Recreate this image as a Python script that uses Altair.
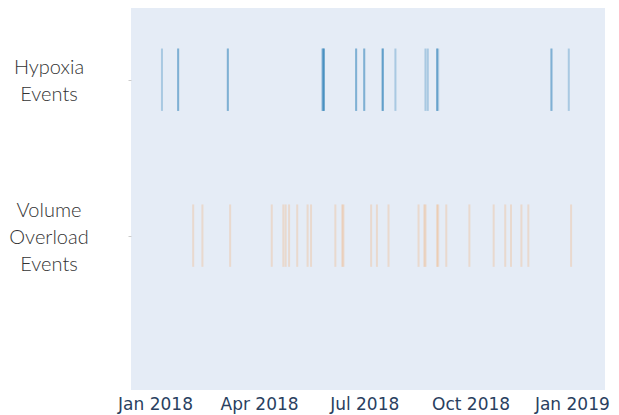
import altair as alt
import pandas as pd

series_names = ["Hypoxia Events", "Volume Overload Events"]
series_labels = ["Hypoxia\nEvents", "Volume\nOverload\nEvents"]
series_levels = [2, 1]
series_colors = ["#1f77b4", "#ff7f0e"]

hypoxia_dates = [
    "2018-01-07",
    "2018-01-21", "2018-01-21",
    "2018-03-05", "2018-03-05",
    "2018-05-26", "2018-05-26", "2018-05-27", "2018-05-27", "2018-05-27",
    "2018-06-24", "2018-06-24",
    "2018-07-01", "2018-07-01",
    "2018-07-17", "2018-07-17", "2018-07-17",
    "2018-07-28",
    "2018-08-23", "2018-08-25",
    "2018-09-02", "2018-09-02", "2018-09-03",
    "2018-12-10", "2018-12-10",
    "2018-12-25",
]
volume_dates = [
    "2018-02-03", "2018-02-11", "2018-03-07", "2018-04-12", "2018-04-22",
    "2018-04-24", "2018-04-27", "2018-05-04", "2018-05-13", "2018-05-16",
    "2018-06-06", "2018-06-12", "2018-06-13", "2018-07-07", "2018-07-12",
    "2018-07-22", "2018-08-17", "2018-08-22", "2018-08-23", "2018-09-02",
    "2018-09-03", "2018-09-10", "2018-09-30", "2018-10-21", "2018-10-31",
    "2018-11-05", "2018-11-14", "2018-11-20", "2018-12-27",
]

tick_dates = [(2018, 1), (2018, 4), (2018, 7), (2018, 10), (2019, 1)]

rows = []
for d in hypoxia_dates:
    rows.append({"series": series_names[0], "date": d, "level": series_levels[0]})
for d in volume_dates:
    rows.append({"series": series_names[1], "date": d, "level": series_levels[1]})
events = pd.DataFrame(rows)

x_scale = alt.Scale(
    type="utc",
    domain=[alt.DateTime(year=2017, month=12, date=11, hours=5, utc=True),
            alt.DateTime(year=2019, month=1, date=25, hours=8, utc=True)],
)
y_scale = alt.Scale(domain=[0.01, 2.46], nice=False, zero=False)

rules = alt.Chart(events).transform_calculate(
    ylo="datum.level - 0.2", yhi="datum.level + 0.2"
).mark_rule(strokeWidth=2).encode(
    x=alt.X("date:T", scale=x_scale,
            axis=alt.Axis(values=[alt.DateTime(year=y, month=m, date=1, utc=True) for y, m in tick_dates],
                          format="%b %Y", title=None, grid=False, domain=False, ticks=False,
                          labelFont="DejaVu Sans", labelFontSize=17, labelColor="#2a3f5f",
                          labelPadding=6, labelFlush=False,
                          labelOffset={"condition": {"test": "datum.value > 1545000000000", "value": -5},
                                       "value": 0})),
    y=alt.Y("ylo:Q", scale=y_scale,
            axis=alt.Axis(values=series_levels, labels=False, title=None, grid=False,
                          domain=False, ticks=True, tickSize=3, tickColor="#cccccc")),
    y2="yhi:Q",
    color=alt.Color("series:N", scale=alt.Scale(domain=series_names, range=series_colors), legend=None),
    opacity=alt.Opacity("series:N", scale=alt.Scale(domain=series_names, range=[0.3, 0.17]), legend=None),
)

line_h = 27
text_layers = []
for lab, lev in zip(series_labels, series_levels):
    n = lab.count("\n") + 1
    df = pd.DataFrame({"label": [lab], "level": [lev]})
    text_layers.append(
        alt.Chart(df).mark_text(
            lineBreak="\n", align="center", baseline="middle", font="Lato",
            fontWeight=300, fontSize=20, color="#333333", lineHeight=line_h,
            dy=-(n - 1) * line_h / 2 + 2,
        ).encode(
            x=alt.value(-82),
            y=alt.Y("level:Q", scale=y_scale),
            text="label:N",
        )
    )

chart = alt.layer(rules, *text_layers).properties(
    width=474, height=382,
    autosize=alt.AutoSizeParams(type="none"),
    padding={"left": 123, "top": 0, "right": 6, "bottom": 25},
).configure_view(fill="#E5ECF6", stroke=None)

chart.save("out.html", embed_options={"renderer": "svg", "actions": False})
